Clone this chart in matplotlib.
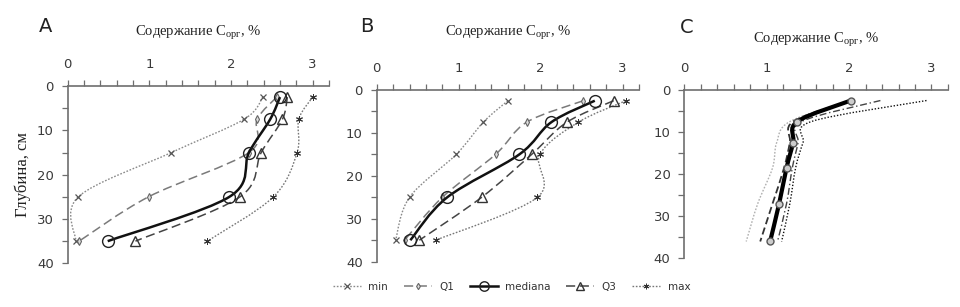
import numpy as np
import matplotlib
matplotlib.use("Agg")
import matplotlib.pyplot as plt
from matplotlib.path import Path
from matplotlib.patches import PathPatch
from matplotlib.lines import Line2D
from matplotlib.ticker import MultipleLocator

plt.rcParams['mathtext.fontset'] = 'custom'
plt.rcParams['mathtext.rm'] = 'Liberation Serif'
plt.rcParams['mathtext.it'] = 'Liberation Serif:italic'
plt.rcParams['mathtext.bf'] = 'Liberation Serif:bold'

# ---------------- data ----------------
series_names = ["min", "Q1", "mediana", "Q3", "max"]

depth_AB = [2.5, 7.5, 15, 25, 35]
A_min = [2.39, 2.16, 1.27, 0.13, 0.10]
A_q1 = [2.56, 2.32, 2.22, 0.99, 0.14]
A_med = [2.60, 2.48, 2.22, 1.98, 0.49]
A_q3 = [2.69, 2.63, 2.37, 2.11, 0.83]
A_max = [3.00, 2.83, 2.81, 2.52, 1.71]

B_min = [1.60, 1.30, 0.97, 0.40, 0.23]
B_q1 = [2.52, 1.83, 1.45, 0.80, 0.34]
B_med = [2.66, 2.13, 1.74, 0.86, 0.41]
B_q3 = [2.89, 2.32, 1.89, 1.28, 0.52]
B_max = [3.04, 2.46, 1.99, 1.96, 0.72]

depth_C = [2.5, 7.5, 12.5, 18.5, 27, 36]
C_min = [2.02, 1.28, 1.12, 1.07, 0.89, 0.75]
C_q1 = [2.02, 1.32, 1.28, 1.21, 1.07, 0.92]
C_med = [2.02, 1.37, 1.32, 1.24, 1.15, 1.04]
C_q3 = [2.38, 1.42, 1.38, 1.31, 1.24, 1.13]
C_max = [2.94, 1.54, 1.44, 1.35, 1.28, 1.18]

panel_letters = ["A", "B", "C"]
x_label = "Содержание C$_{\\mathrm{орг}}$, %"
y_label = "Глубина, см"
x_ticks = [0, 1, 2, 3]
y_ticks = [0, 10, 20, 30, 40]

# ---------------- styles ----------------
style_AB = {
    "min": dict(color="#8a8a8a", ls=(0, (1.2, 1.2)), lw=1.0, marker="x", ms=5, mfc="none", mec="#555555", mew=0.9),
    "Q1": dict(color="#7a7a7a", ls=(0, (6, 3)), lw=1.1, marker="d", ms=4, mfc="#dddddd", mec="#666666", mew=0.8),
    "mediana": dict(color="#111111", ls="-", lw=1.8, marker="o", ms=8.5, mfc="none", mec="#222222", mew=1.0),
    "Q3": dict(color="#444444", ls=(0, (6, 3)), lw=1.1, marker="^", ms=7, mfc="none", mec="#333333", mew=1.0),
    "max": dict(color="#777777", ls=(0, (1.2, 1.2)), lw=1.0, marker=(6, 2, 0), ms=5, mfc="none", mec="#333333", mew=0.7),
}
style_C = {
    "min": dict(color="#b0b0b0", ls=(0, (1.2, 1.2)), lw=1.0, marker=None),
    "Q1": dict(color="#333333", ls=(0, (4, 2)), lw=1.3, marker=None),
    "mediana": dict(color="#000000", ls="-", lw=3.0, marker="o", ms=5, mfc="#cccccc", mec="#555555", mew=1.0),
    "Q3": dict(color="#444444", ls=(0, (5, 2, 1, 2)), lw=1.0, marker=None),
    "max": dict(color="#111111", ls=(0, (1, 1.3)), lw=1.0, marker=None),
}


def smooth_path(x, y):
    pts = np.column_stack([x, y]).astype(float)
    n = len(pts)
    verts = [pts[0]]
    codes = [Path.MOVETO]
    for i in range(n - 1):
        p0 = pts[i - 1] if i > 0 else pts[i]
        p1 = pts[i]
        p2 = pts[i + 1]
        p3 = pts[i + 2] if i + 2 < n else pts[i + 1]
        c1 = p1 + (p2 - p0) / 6.0
        c2 = p2 - (p3 - p1) / 6.0
        verts += [c1, c2, p2]
        codes += [Path.CURVE4] * 3
    return Path(verts, codes)


def draw_series(ax, x, y, st, z):
    ax.add_patch(PathPatch(smooth_path(x, y), fill=False, edgecolor=st["color"],
                           lw=st["lw"], linestyle=st["ls"], zorder=z))
    if st.get("marker") is not None:
        ax.plot(x, y, linestyle="none", marker=st["marker"], ms=st["ms"],
                mfc=st["mfc"], mec=st["mec"], mew=st["mew"], zorder=z + 0.5)


fig = plt.figure(figsize=(9.6, 3.07), dpi=100)

axes_pos = [
    [0.0705, 0.1423, 0.2722, 0.5775],
    [0.3924, 0.1476, 0.2733, 0.5593],
    [0.7130, 0.1586, 0.2744, 0.5482],
]
xlabel_y = [1.299, 1.332, 1.297]
letter_xy = [(-0.083, 1.338), (-0.037, 1.367), (0.010, 1.374)]

panels = [
    (depth_AB, [A_min, A_q1, A_med, A_q3, A_max], style_AB),
    (depth_AB, [B_min, B_q1, B_med, B_q3, B_max], style_AB),
    (depth_C, [C_min, C_q1, C_med, C_q3, C_max], style_C),
]

spine_col = "#6e6e6e"
for k, (pos, (dep, vals, st)) in enumerate(zip(axes_pos, panels)):
    ax = fig.add_axes(pos)
    ax.set_xlim(0, 3.2)
    ax.set_ylim(40, 0)
    for name, v, z in zip(series_names, vals, [2, 3, 5, 4, 2]):
        draw_series(ax, v, dep, st[name], z)
    ax.spines["right"].set_visible(False)
    ax.spines["bottom"].set_visible(False)
    ax.spines["top"].set_color(spine_col)
    ax.spines["left"].set_color(spine_col)
    ax.spines["top"].set_linewidth(1.2)
    ax.spines["left"].set_linewidth(1.2)
    ax.xaxis.tick_top()
    ax.set_xticks(x_ticks)
    ax.xaxis.set_minor_locator(MultipleLocator(0.2))
    ax.set_yticks(y_ticks)
    ax.yaxis.set_minor_locator(MultipleLocator(5))
    ax.tick_params(axis="both", which="both", direction="out", length=4,
                   width=0.9, color=spine_col, labelsize=9.5, labelcolor="#3a3a3a")
    ax.tick_params(axis="x", which="major", pad=7)
    ax.tick_params(axis="y", which="major", pad=6)
    for lab in ax.get_xticklabels() + ax.get_yticklabels():
        lab.set_family("DejaVu Sans")
    ax.text(0.5, xlabel_y[k], x_label, transform=ax.transAxes, ha="center",
            va="center", family="Liberation Serif", fontsize=10.5, color="#222222")
    ax.text(letter_xy[k][0], letter_xy[k][1], panel_letters[k], transform=ax.transAxes,
            fontsize=14, family="DejaVu Sans", color="#222222", va="center", ha="center")
    if k == 0:
        ax.set_ylabel(y_label, family="Liberation Serif", fontsize=12,
                      color="#222222")
        ax.yaxis.set_label_coords(-0.14, 0.5)

handles = []
for name in series_names:
    s = style_AB[name]
    handles.append(Line2D([], [], color=s["color"], ls=s["ls"], lw=s["lw"],
                          marker=s["marker"], ms=s["ms"] * 0.8, mfc=s["mfc"],
                          mec=s["mec"], mew=s["mew"]))
fig.legend(handles, series_names, loc="center", bbox_to_anchor=(0.533, 0.065),
           ncol=5, frameon=False, fontsize=7.5, handlelength=2.7,
           columnspacing=1.5, handletextpad=0.7, labelcolor="#333333")

fig.savefig("out.png", dpi=100)
